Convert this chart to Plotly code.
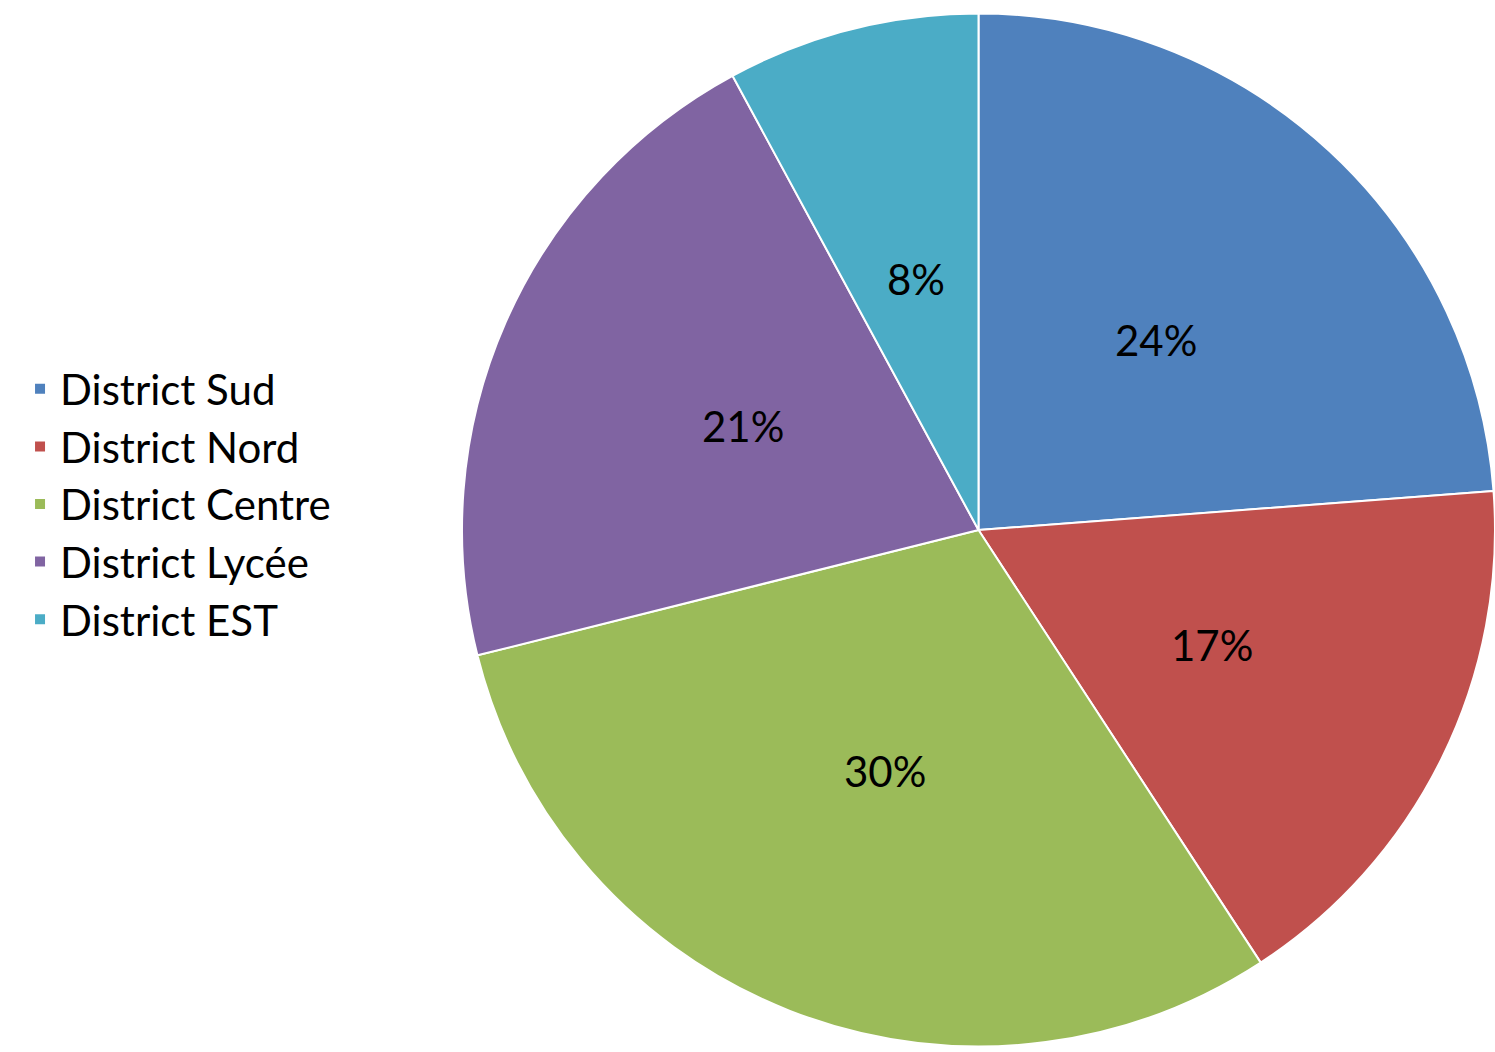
import numpy as np
import plotly.graph_objects as go

categories = ["District Sud", "District Nord", "District Centre", "District Lycée", "District EST"]
values = [23.8, 17.0, 30.3, 21.0, 7.9]
colors = ["#4F81BD", "#C0504D", "#9BBB59", "#8064A2", "#4BACC6"]

W, H = 1495, 1052
CX, CY, R = 980, 530, 518  # pie centre / radius in figure pixels
FONT = "Lato"

fig = go.Figure(go.Pie(
    labels=categories,
    values=values,
    sort=False,
    direction="clockwise",
    rotation=0,
    marker=dict(colors=colors, line=dict(color="white", width=2)),
    textinfo="none",
    domain=dict(x=[(CX - R) / W, min(1.0, (CX + R) / W)], y=[(H - CY - R) / H, (H - CY + R) / H]),
    hoverinfo="label+percent",
))

# percentage labels along each slice bisector at half radius (Excel style)
vals = np.array(values, dtype=float)
frac = vals / vals.sum()
mid = np.cumsum(frac) - frac / 2
theta = 2 * np.pi * mid
for f, t in zip(frac, theta):
    px = CX + 0.5 * R * np.sin(t)
    py = CY - 0.5 * R * np.cos(t)
    fig.add_annotation(
        x=px / W, y=1 - py / H, xref="paper", yref="paper",
        text=f"{round(f * 100):.0f}%", showarrow=False,
        xanchor="center", yanchor="middle",
        font=dict(family=FONT, size=42, color="black"),
    )

fig.update_layout(
    width=W, height=H,
    margin=dict(l=0, r=0, t=0, b=0),
    paper_bgcolor="white",
    showlegend=True,
    legend=dict(
        x=0.0134, y=0.5209, xanchor="left", yanchor="middle",
        font=dict(family=FONT, size=42, color="black"),
        tracegroupgap=0, itemwidth=30,
    ),
)

fig.write_html(
    "out.html",
    config={"displayModeBar": False},
    post_script="document.body.style.margin='0';document.body.style.overflow='hidden';",
)
